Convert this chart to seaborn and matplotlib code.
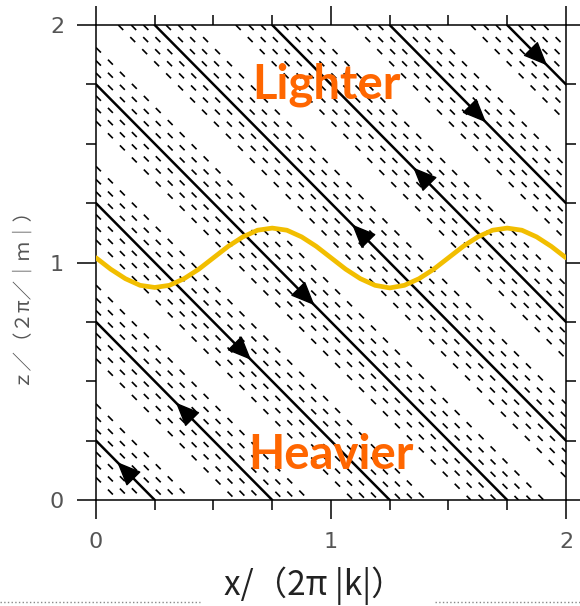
import numpy as np
import pandas as pd
import seaborn as sns
import matplotlib.pyplot as plt
from matplotlib.lines import Line2D
from matplotlib.ticker import MultipleLocator

## Data
# solid phase lines, as intercepts of x + z = s
solid_s = [0.25, 0.75, 1.25, 1.75, 2.25, 2.75, 3.25, 3.75]
# dashed lines sit at these offsets on both sides of each solid line
dash_offsets = [0.048, 0.1, 0.155]

# arrow heads on the solid lines: x position and direction
arrow_x = [0.12, 0.37, 0.63, 0.90, 1.12, 1.38, 1.63, 1.89]
arrow_dir = ["up", "up", "down", "down", "up", "up", "down", "down"]

# yellow interface
wave_x = [0.0, 0.0625, 0.125, 0.1875, 0.25, 0.3125, 0.375, 0.4375, 0.5,
          0.5625, 0.625, 0.6875, 0.75, 0.8125, 0.875, 0.9375, 1.0,
          1.0625, 1.125, 1.1875, 1.25, 1.3125, 1.375, 1.4375, 1.5,
          1.5625, 1.625, 1.6875, 1.75, 1.8125, 1.875, 1.9375, 2.0]
wave_z = [1.02, 0.972, 0.932, 0.904, 0.895, 0.904, 0.932, 0.972, 1.02,
          1.068, 1.108, 1.136, 1.145, 1.136, 1.108, 1.068, 1.02,
          0.972, 0.932, 0.904, 0.893, 0.904, 0.932, 0.972, 1.02,
          1.068, 1.108, 1.136, 1.145, 1.136, 1.108, 1.068, 1.02]

tick_labels = ["0", "1", "2"]

## Style
sns.set_theme(style="ticks")
plt.rcParams["font.family"] = ["DejaVu Sans"]

fig = plt.figure(figsize=(5.8, 6.06), dpi=100)
ax = fig.add_axes([0.1655, 0.1749, 0.8103, 0.7838])
ax.set_facecolor("white")

## Phase lines
for s in solid_s:
    ax.axline((0, s), slope=-1, color="black", lw=1.8, zorder=2)
    for d in dash_offsets:
        for ss in (s - d, s + d):
            ax.axline((0, ss), slope=-1, color="black", lw=1.2,
                      linestyle=(0, (4.2, 6.0)), zorder=1)

## Interface
wave = pd.DataFrame({"x": wave_x, "z": wave_z})
sns.lineplot(data=wave, x="x", y="z", color="#F2BE00", lw=3.4, ax=ax,
             zorder=5, sort=False)

## Arrow heads
h = 0.03
for x, s, d in zip(arrow_x, solid_s, arrow_dir):
    z = s - x
    sign = 1 if d == "up" else -1
    ax.annotate("", xy=(x - sign * h, z + sign * h),
                xytext=(x + sign * h, z - sign * h),
                arrowprops=dict(arrowstyle="-|>,head_length=0.85,head_width=0.36",
                                mutation_scale=18, color="black",
                                shrinkA=0, shrinkB=0, lw=1),
                zorder=4)

## Labels inside
ax.text(0.98, 1.75, "Lighter", color="#FF6600", fontsize=34,
        fontweight="bold", family="Lato", ha="center", va="center", zorder=6)
ax.text(1.0, 0.19, "Heavier", color="#FF6600", fontsize=34,
        fontweight="bold", family="Lato", ha="center", va="center", zorder=6)

## Axes
ax.set_xlim(0, 2)
ax.set_ylim(0, 2)
ax.xaxis.set_minor_locator(MultipleLocator(0.25))
ax.yaxis.set_minor_locator(MultipleLocator(0.25))
ax.set_xticks([0, 1, 2], tick_labels)
ax.set_yticks([0, 1, 2], tick_labels)
ax.tick_params(which="both", direction="out", top=True, right=True,
               width=1.1, color="black")
ax.tick_params(which="major", length=14, labelsize=16, labelcolor="#555555",
               pad=9)
ax.tick_params(which="minor", length=7)
for sp in ax.spines.values():
    sp.set_visible(True)
    sp.set_color("black")
    sp.set_linewidth(1.1)

ax.set_xlabel("x/（2π |k|）", fontsize=24, color="#222222",
              family=["Noto Sans CJK JP", "DejaVu Sans"])
ax.xaxis.set_label_coords(0.465, -0.14)
ax.set_ylabel("ｚ／（２π／｜ｍ｜）", fontsize=14, color="#555555",
              family=["Noto Sans CJK JP", "DejaVu Sans"])
ax.yaxis.set_label_coords(-0.14, 0.44)

## dotted rules at the bottom
fig.add_artist(Line2D([0.0, 0.345], [0.006, 0.006], transform=fig.transFigure,
                      ls=":", color="#888888", lw=1))
fig.add_artist(Line2D([0.75, 1.0], [0.006, 0.006], transform=fig.transFigure,
                      ls=":", color="#888888", lw=1))

fig.savefig("out.png", dpi=100)
